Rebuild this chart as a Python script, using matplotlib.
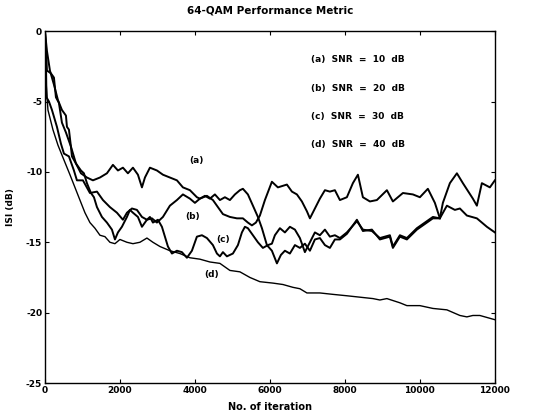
import matplotlib
matplotlib.use('Agg')
import matplotlib.pyplot as plt

plt.rcParams['font.family'] = ['DejaVu Sans']
plt.rcParams['font.weight'] = 'bold'
plt.rcParams['axes.unicode_minus'] = False

# (a) SNR = 10 dB
a_x = [0, 27, 53, 160, 240, 293, 373, 453, 560, 693, 827, 960, 1120, 1280, 1467, 1653, 1813,
       1947, 2080, 2213, 2347, 2480, 2587, 2667, 2800, 2987, 3147, 3333, 3520, 3680, 3867, 4053,
       4133, 4267, 4400, 4533, 4667, 4800, 4933, 5067, 5200, 5280, 5413, 5547, 5680, 5787, 5920,
       6053, 6187, 6293, 6400, 6533, 6667, 6800, 6933, 7067, 7200, 7333, 7467, 7600, 7733, 7867,
       8053, 8320, 8480, 8720, 8933, 9200, 9280, 9467, 9653, 9920, 10187, 10347, 10533, 10613,
       10800, 10987, 11147, 11413, 11520, 11653, 11867, 12000]
a_y = [0, -1.0, -2.8, -3.0, -3.3, -4.7, -5.1, -6.5, -7.2, -8.2, -9.4, -10.1, -10.4, -10.6, -10.4,
       -10.1, -9.5, -9.9, -9.7, -10.1, -9.7, -10.2, -11.1, -10.4, -9.7, -9.9, -10.2, -10.4, -10.6,
       -11.1, -11.3, -11.8, -11.9, -11.7, -11.9, -11.6, -12.0, -11.8, -12.0, -11.6, -11.3, -11.2,
       -11.6, -12.4, -13.2, -14.0, -15.2, -15.6, -16.5, -15.9, -15.6, -15.8, -15.2, -15.4, -15.1,
       -15.6, -14.8, -14.7, -15.2, -15.4, -14.8, -14.8, -14.4, -13.4, -14.2, -14.1, -14.8, -14.6,
       -15.4, -14.6, -14.8, -14.1, -13.6, -13.3, -13.3, -12.2, -10.8, -10.1, -10.8, -11.9, -12.4,
       -10.8, -11.1, -10.6]

# (b) SNR = 20 dB
b_x = [0, 27, 40, 107, 187, 320, 427, 507, 640, 773, 853, 1013, 1200, 1387, 1547, 1733, 1920,
       2080, 2187, 2320, 2453, 2587, 2720, 2853, 2987, 3147, 3333, 3520, 3680, 3867, 4000, 4133,
       4320, 4480, 4613, 4747, 4933, 5120, 5280, 5413, 5520, 5627, 5733, 5867, 6053, 6213, 6453,
       6587, 6720, 6853, 6987, 7067, 7200, 7333, 7467, 7600, 7733, 7867, 8053, 8213, 8347, 8480,
       8667, 8853, 9120, 9280, 9547, 9813, 10000, 10213, 10400, 10533, 10720, 10933, 11067,
       11253, 11520, 11787, 12000]
b_y = [0, -2.1, -4.7, -5.0, -5.6, -6.8, -8.0, -8.7, -8.9, -9.9, -10.6, -10.6, -11.5, -11.4,
       -12.0, -12.5, -12.9, -13.4, -12.9, -12.6, -12.7, -13.2, -13.4, -13.3, -13.6, -13.2, -12.4,
       -12.0, -11.6, -11.9, -12.2, -11.9, -11.7, -12.0, -12.5, -13.0, -13.2, -13.3, -13.3, -13.6,
       -13.8, -13.6, -13.1, -12.0, -10.7, -11.1, -10.9, -11.4, -11.6, -12.1, -12.8, -13.3, -12.6,
       -11.9, -11.3, -11.4, -11.3, -12.0, -11.8, -10.8, -10.2, -11.8, -12.1, -12.0, -11.3, -12.1,
       -11.5, -11.6, -11.8, -11.2, -12.2, -13.3, -12.4, -12.7, -12.6, -13.1, -13.3, -13.9, -14.3]

# (c) SNR = 30 dB
c_x = [0, 53, 133, 240, 347, 453, 560, 587, 640, 693, 720, 827, 960, 1040, 1120, 1227, 1307,
       1387, 1520, 1653, 1787, 1867, 1947, 2053, 2187, 2267, 2347, 2480, 2587, 2720, 2800, 2880,
       3013, 3120, 3200, 3280, 3387, 3520, 3653, 3787, 3920, 4053, 4187, 4320, 4480, 4587, 4667,
       4747, 4853, 5013, 5147, 5253, 5333, 5413, 5547, 5680, 5813, 5947, 6053, 6133, 6267, 6400,
       6533, 6667, 6800, 6933, 7067, 7200, 7333, 7467, 7600, 7733, 7867, 8053, 8320, 8480, 8720,
       8933, 9200, 9280, 9467, 9653, 9920, 10187, 10347, 10533]
c_y = [0, -1.4, -2.8, -3.8, -4.9, -5.6, -6.0, -6.8, -7.0, -8.2, -8.9, -9.4, -9.9, -10.1, -10.8,
       -11.5, -11.8, -12.5, -13.2, -13.6, -14.1, -14.8, -14.3, -13.9, -13.2, -12.7, -12.9, -13.2,
       -13.9, -13.4, -13.2, -13.6, -13.4, -13.9, -14.6, -15.3, -15.8, -15.6, -15.7, -16.1, -15.6,
       -14.6, -14.5, -14.7, -15.2, -15.8, -16.0, -15.7, -16.0, -15.8, -15.2, -14.3, -13.9, -14.0,
       -14.5, -15.0, -15.4, -15.2, -15.1, -14.5, -14.0, -14.3, -13.9, -14.1, -14.7, -15.7, -15.0,
       -14.3, -14.5, -14.1, -14.6, -14.5, -14.7, -14.3, -13.5, -14.1, -14.2, -14.7, -14.5, -15.3,
       -14.5, -14.7, -14.0, -13.5, -13.2, -13.3]

# (d) SNR = 40 dB
d_x = [0, 27, 80, 213, 347, 453, 560, 667, 800, 933, 1067, 1200, 1333, 1467, 1600, 1733, 1867,
       2000, 2187, 2347, 2533, 2720, 2880, 3067, 3333, 3600, 3867, 4133, 4400, 4667, 4933, 5200,
       5467, 5733, 6080, 6347, 6613, 6800, 6987, 7333, 7680, 8053, 8400, 8747, 8933, 9120, 9467,
       9653, 10000, 10347, 10720, 11067, 11253, 11413, 11600, 11867, 12000]
d_y = [0, -3.5, -5.6, -7.0, -8.1, -8.8, -9.5, -10.2, -11.1, -12.0, -12.9, -13.6, -14.0, -14.5,
       -14.6, -15.0, -15.1, -14.8, -15.0, -15.1, -15.0, -14.7, -15.0, -15.3, -15.6, -15.8, -16.1,
       -16.2, -16.4, -16.5, -17.0, -17.1, -17.5, -17.8, -17.9, -18.0, -18.2, -18.3, -18.6, -18.6,
       -18.7, -18.8, -18.9, -19.0, -19.1, -19.0, -19.3, -19.5, -19.5, -19.7, -19.8, -20.2, -20.3,
       -20.2, -20.2, -20.4, -20.5]

snr_labels = ['(a)  SNR  =  10  dB', '(b)  SNR  =  20  dB', '(c)  SNR  =  30  dB', '(d)  SNR  =  40  dB']
curve_tags = ['(a)', '(b)', '(c)', '(d)']
tag_pos = [(4030, -9.2), (3950, -13.2), (4750, -14.8), (4450, -17.3)]

fig = plt.figure(figsize=(5.35, 4.15), dpi=100)
ax = fig.add_axes([0.084, 0.077, 0.841, 0.848])

ax.plot(a_x, a_y, color='black', lw=1.4)
ax.plot(b_x, b_y, color='black', lw=1.4)
ax.plot(c_x, c_y, color='black', lw=1.4)
ax.plot(d_x, d_y, color='black', lw=1.0)

for t, (tx, ty) in zip(curve_tags, tag_pos):
    ax.text(tx, ty, t, fontsize=6.5, ha='center', va='center', fontweight='bold')

for i, s in enumerate(snr_labels):
    ax.text(7090, -2.05 - 2.0 * i, s, fontsize=6.5, ha='left', va='center', fontweight='bold')

ax.set_xlim(0, 12000)
ax.set_ylim(-25, 0)
ax.set_xticks([0, 2000, 4000, 6000, 8000, 10000, 12000])
ax.set_yticks([0, -5, -10, -15, -20, -25])
ax.tick_params(direction='in', length=3, width=0.8, top=True, right=True, labelsize=6.5, pad=2)
for sp in ax.spines.values():
    sp.set_linewidth(1.0)

ax.set_title('64-QAM Performance Metric', fontsize=7.5, fontweight='bold', pad=13)
ax.set_xlabel('No. of iteration', fontsize=7, fontweight='bold', labelpad=5)
ax.set_ylabel('ISI (dB)', fontsize=6.5, fontweight='bold', labelpad=8)

plt.savefig('out.png', dpi=100)
